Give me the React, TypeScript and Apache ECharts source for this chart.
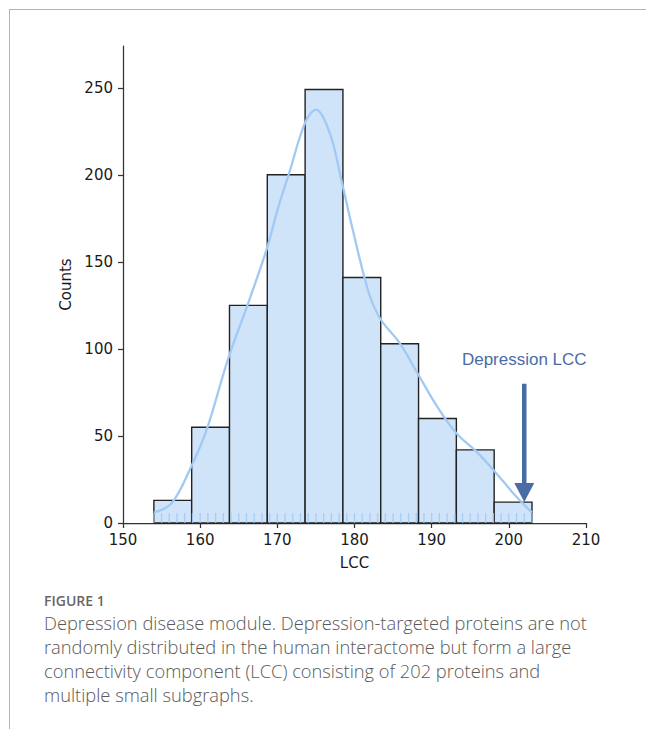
import { useEffect, useRef } from "react";
import * as echarts from "echarts";

// ---- data ----
const binEdges = [154, 158.9, 163.8, 168.7, 173.6, 178.5, 183.4, 188.3, 193.2, 198.1, 203];
const binCounts = [13, 55, 125, 200, 249, 141, 103, 60, 42, 12];

const kdeX = [154.0, 156.3, 158.8, 160.8, 163.6, 166.2, 168.6, 170.1, 171.6, 173.6, 175.0, 176.8, 178.3, 179.8, 181.8, 183.3, 185.9, 188.3, 190.7, 193.2, 195.8, 198.2, 200.6, 203.0];
const kdeY = [6, 11.3, 32, 53, 94, 126, 157, 181, 202, 230, 237.5, 224, 197, 168, 133, 117.6, 103, 85, 67, 51.5, 41, 29.5, 17, 6];

const rugValues = [154, 155, 156, 157, 158, 159, 160, 161, 162, 163, 164, 165, 166, 167, 168, 169, 170, 171, 172, 173, 174, 175, 176, 177, 178, 179, 180, 181, 182, 183, 184, 185, 186, 187, 188, 189, 190, 191, 192, 193, 194, 195, 196, 197, 198, 199, 200, 201, 202, 203];

const xTicks = [150, 160, 170, 180, 190, 200, 210];
const yTicks = [0, 50, 100, 150, 200, 250];

const observedLCC = 202;
const arrowStart = 80;
const arrowEnd = 12;
const annotationY = 94;
const annotationText = "Depression LCC";

const xAxisName = "LCC";
const yAxisName = "Counts";

const captionTitle = "FIGURE 1";
const captionLines = [
  "Depression disease module. Depression-targeted proteins are not",
  "randomly distributed in the human interactome but form a large",
  "connectivity component (LCC) consisting of 202 proteins and",
  "multiple small subgraphs.",
];

const AXIS_FONT = "DejaVu Sans";
const ARROW_COLOR = "#4a6ca6";

export default function App() {
  const ref = useRef<HTMLDivElement>(null);

  useEffect(() => {
    if (!ref.current) return;
    const chart = echarts.init(ref.current, undefined, { renderer: "svg" });

    const histData = binCounts.map((c, i) => [binEdges[i], binEdges[i + 1], c]);
    const kdeData = kdeX.map((x, i) => [x, kdeY[i]]);
    const rugData = rugValues.map((v) => [v, 0]);

    const graphics: any[] = [
      { type: "line", shape: { x1: 9, y1: 9.5, x2: 646, y2: 9.5 }, style: { stroke: "#b4b4b4", lineWidth: 1 }, silent: true },
      { type: "line", shape: { x1: 9.5, y1: 9, x2: 9.5, y2: 729 }, style: { stroke: "#b4b4b4", lineWidth: 1 }, silent: true },
      {
        type: "text",
        x: 44,
        y: 600.5,
        style: { text: captionTitle, fill: "#666", font: "600 14px 'Open Sans'", textVerticalAlign: "middle" },
      },
      ...captionLines.map((line, i) => ({
        type: "text",
        x: 44,
        y: 622.3 + i * 24,
        style: { text: line, fill: "#595959", font: "300 18.3px 'Open Sans'", textVerticalAlign: "middle" },
      })),
    ];

    chart.setOption({
      animation: false,
      backgroundColor: "#fff",
      grid: { left: 123, right: 60, top: 46, bottom: 206, containLabel: false },
      xAxis: {
        type: "value",
        min: 150,
        max: 210,
        interval: 10,
        name: xAxisName,
        nameLocation: "middle",
        nameGap: 32,
        nameTextStyle: { fontFamily: AXIS_FONT, fontSize: 15, color: "#1a1a1a" },
        axisLine: { show: true, lineStyle: { color: "#333", width: 1.25 } },
        axisTick: { show: true, length: 5, lineStyle: { color: "#333", width: 1.25 }, customValues: xTicks },
        axisLabel: { fontFamily: AXIS_FONT, fontSize: 15, color: "#1a1a1a", margin: 9, customValues: xTicks },
        splitLine: { show: false },
      },
      yAxis: {
        type: "value",
        min: 0,
        max: 274,
        name: yAxisName,
        nameLocation: "middle",
        nameGap: 47,
        nameTextStyle: { fontFamily: AXIS_FONT, fontSize: 15, color: "#1a1a1a" },
        axisLine: { show: true, lineStyle: { color: "#333", width: 1.25 } },
        axisTick: { show: true, length: 5, lineStyle: { color: "#333", width: 1.25 }, customValues: yTicks },
        axisLabel: { fontFamily: AXIS_FONT, fontSize: 15, color: "#1a1a1a", margin: 10, customValues: yTicks },
        splitLine: { show: false },
      },
      series: [
        {
          type: "custom",
          name: "hist",
          data: histData,
          encode: { x: [0, 1], y: 2 },
          z: 2,
          renderItem: (_params: any, api: any) => {
            const p0 = api.coord([api.value(0), api.value(2)]);
            const p1 = api.coord([api.value(1), 0]);
            return {
              type: "rect",
              shape: { x: p0[0], y: p0[1], width: p1[0] - p0[0], height: p1[1] - p0[1] },
              style: { fill: "#d0e4f9", stroke: "#222", lineWidth: 1.4 },
            };
          },
        },
        {
          type: "line",
          name: "kde",
          data: kdeData,
          smooth: 0.35,
          showSymbol: false,
          symbol: "none",
          z: 3,
          lineStyle: { color: "#a1c9f4", width: 2.3 },
        },
        {
          type: "custom",
          name: "rug",
          data: rugData,
          encode: { x: 0, y: 1 },
          z: 4,
          renderItem: (_params: any, api: any) => {
            const p = api.coord([api.value(0), api.value(1)]);
            return {
              type: "line",
              shape: { x1: p[0], y1: p[1], x2: p[0], y2: p[1] - 10 },
              style: { stroke: "#a1c9f4", lineWidth: 1.3, opacity: 0.85 },
            };
          },
        },
        {
          type: "custom",
          name: "arrow",
          data: [[observedLCC, arrowStart, arrowEnd, annotationY]],
          encode: { x: 0, y: [1, 2] },
          z: 5,
          renderItem: (_params: any, api: any) => {
            const top = api.coord([api.value(0), api.value(1)]);
            const tip = api.coord([api.value(0), api.value(2)]);
            const lab = api.coord([api.value(0), api.value(3)]);
            const headLen = 19;
            const headHalf = 10;
            return {
              type: "group",
              children: [
                {
                  type: "line",
                  shape: { x1: top[0], y1: top[1], x2: tip[0], y2: tip[1] - headLen + 1 },
                  style: { stroke: ARROW_COLOR, lineWidth: 4.5 },
                },
                {
                  type: "polygon",
                  shape: {
                    points: [
                      [tip[0] - headHalf, tip[1] - headLen],
                      [tip[0] + headHalf, tip[1] - headLen],
                      [tip[0], tip[1]],
                    ],
                  },
                  style: { fill: ARROW_COLOR },
                },
                {
                  type: "text",
                  x: lab[0],
                  y: lab[1],
                  style: {
                    text: annotationText,
                    fill: ARROW_COLOR,
                    font: "17px 'Liberation Sans'",
                    textAlign: "center",
                    textVerticalAlign: "middle",
                  },
                },
              ],
            };
          },
        },
      ],
      graphic: graphics,
    });

    return () => chart.dispose();
  }, []);

  return <div ref={ref} style={{ position: "absolute", left: 0, top: 0, width: 646, height: 729 }} />;
}
